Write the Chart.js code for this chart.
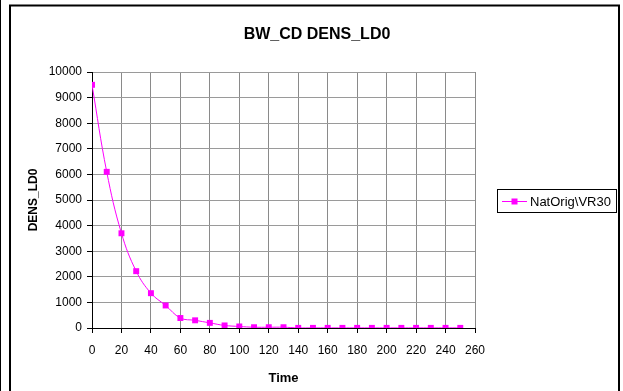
<!DOCTYPE html>
<html>
<head>
<meta charset="utf-8">
<script src="https://cdn.jsdelivr.net/npm/chart.js@4.4.1/dist/chart.umd.min.js"></script>
<style>
  html, body { margin: 0; padding: 0; background: #fff; }
  #wrap { position: relative; width: 623px; height: 391px; }
  canvas { display: block; }
</style>
</head>
<body>
<div id="wrap"><canvas id="c" width="623" height="391"></canvas></div>
<script>
const chartTitle = 'BW_CD DENS_LD0';
const xTitle = 'Time';
const yTitle = 'DENS_LD0';
const seriesName = 'NatOrig\\VR30';
const times = [0, 10, 20, 30, 40, 50, 60, 70, 80, 90, 100, 110, 120, 130, 140, 150, 160, 170, 180, 190, 200, 210, 220, 230, 240, 250];
const values = [9500, 6100, 3700, 2220, 1360, 880, 390, 300, 200, 100, 60, 30, 30, 30, 5, 5, 5, 5, 5, 5, 5, 5, 5, 5, 5, 5];
const xTicks = [0, 20, 40, 60, 80, 100, 120, 140, 160, 180, 200, 220, 240, 260];
const yTicks = [0, 1000, 2000, 3000, 4000, 5000, 6000, 7000, 8000, 9000, 10000];

const MAGENTA = '#FF00FF';
const FONT = 'Arial, "Liberation Sans", sans-serif';

const framePlugin = {
  id: 'frame',
  beforeDraw(chart) {
    const ctx = chart.ctx;
    ctx.save();
    ctx.fillStyle = '#fff';
    ctx.fillRect(0, 0, chart.width, chart.height);
    ctx.strokeStyle = '#000';
    ctx.lineWidth = 1;
    ctx.beginPath();
    ctx.moveTo(0.5, 0); ctx.lineTo(0.5, chart.height);
    ctx.stroke();
    ctx.lineWidth = 2;
    ctx.beginPath();
    ctx.moveTo(10, 391); ctx.lineTo(10, 5.5); ctx.lineTo(619, 5.5); ctx.lineTo(619, 391);
    ctx.stroke();
    ctx.restore();
  },
  afterDraw(chart) {
    const ctx = chart.ctx;
    ctx.save();
    // chart title
    ctx.fillStyle = '#000';
    ctx.font = 'bold 16px ' + FONT;
    ctx.textAlign = 'center';
    ctx.textBaseline = 'middle';
    ctx.fillText(chartTitle, 317, 35);
    // legend box
    ctx.strokeStyle = '#000';
    ctx.lineWidth = 1;
    ctx.strokeRect(497.5, 189.5, 119, 23);
    const ly = 201;
    ctx.strokeStyle = MAGENTA;
    ctx.lineWidth = 1;
    ctx.beginPath();
    ctx.moveTo(502, ly + 0.5); ctx.lineTo(527, ly + 0.5);
    ctx.stroke();
    ctx.fillStyle = MAGENTA;
    ctx.fillRect(511.5, ly - 2.5, 6, 6);
    ctx.fillStyle = '#000';
    ctx.font = '13px ' + FONT;
    ctx.textBaseline = 'middle';
    ctx.textAlign = 'left';
    ctx.fillText(chart.data.datasets[0].label, 530, ly + 1);
    ctx.restore();
  }
};

new Chart(document.getElementById('c'), {
  type: 'line',
  data: {
    datasets: [{
      label: seriesName,
      data: times.map((t, i) => ({ x: t, y: values[i] })),
      borderColor: MAGENTA,
      backgroundColor: MAGENTA,
      borderWidth: 1,
      pointStyle: 'rect',
      pointRadius: 4.2,
      pointBorderWidth: 0,
      pointBackgroundColor: MAGENTA,
      tension: 0.4,
      fill: false
    }]
  },
  options: {
    responsive: false,
    animation: false,
    devicePixelRatio: 1,
    layout: { padding: { left: 12, right: 148, top: 72, bottom: 5 } },
    plugins: {
      legend: { display: false },
      tooltip: { enabled: false },
      title: { display: false }
    },
    scales: {
      x: {
        type: 'linear',
        min: 0, max: 260,
        afterBuildTicks(scale) { scale.ticks = xTicks.map(v => ({ value: v })); },
        afterFit(scale) { scale.height = 58; },
        ticks: {
          color: '#000',
          font: { family: FONT, size: 12 },
          padding: 10,
          maxRotation: 0,
          autoSkip: false,
          callback: v => String(v)
        },
        grid: { color: '#8a8a8a', lineWidth: 1, tickLength: 5, tickColor: '#000', drawTicks: true },
        border: { color: '#000', width: 1 },
        title: {
          display: true, text: xTitle, color: '#000',
          font: { family: FONT, size: 13, weight: 'bold' },
          padding: { top: 0, bottom: 0 }
        }
      },
      y: {
        type: 'linear',
        min: 0, max: 10000,
        afterBuildTicks(scale) { scale.ticks = yTicks.map(v => ({ value: v })); },
        afterFit(scale) { scale.width = 80; },
        ticks: {
          color: '#000',
          font: { family: FONT, size: 12 },
          padding: 5,
          autoSkip: false,
          callback: v => String(v)
        },
        grid: { color: '#9a9a9a', lineWidth: 1, tickLength: 5, tickColor: '#000', drawTicks: true },
        border: { color: '#000', width: 1 },
        title: {
          display: true, text: yTitle, color: '#000',
          font: { family: FONT, size: 12, weight: 'bold' },
          padding: { top: 14, bottom: 0 }
        }
      }
    }
  },
  plugins: [framePlugin]
});
</script>
</body>
</html>
